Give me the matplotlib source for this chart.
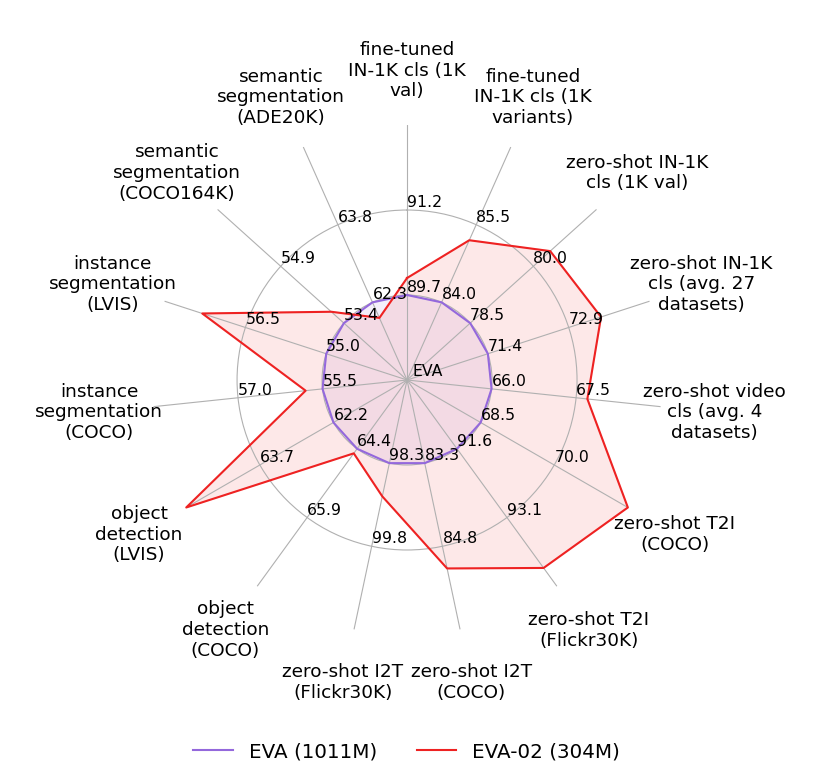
import numpy as np
import matplotlib
matplotlib.use('Agg')
import matplotlib.pyplot as plt

categories = [
    "fine-tuned\nIN-1K cls (1K\nval)",
    "fine-tuned\nIN-1K cls (1K\nvariants)",
    "zero-shot IN-1K\ncls (1K val)",
    "zero-shot IN-1K\ncls (avg. 27\ndatasets)",
    "zero-shot video\ncls (avg. 4\ndatasets)",
    "zero-shot T2I\n(COCO)",
    "zero-shot T2I\n(Flickr30K)",
    "zero-shot I2T\n(COCO)",
    "zero-shot I2T\n(Flickr30K)",
    "object\ndetection\n(COCO)",
    "object\ndetection\n(LVIS)",
    "instance\nsegmentation\n(COCO)",
    "instance\nsegmentation\n(LVIS)",
    "semantic\nsegmentation\n(COCO164K)",
    "semantic\nsegmentation\n(ADE20K)",
]
eva = [89.7, 84.0, 78.5, 71.4, 66.0, 68.5, 91.6, 83.3, 98.3, 64.4, 62.2, 55.5, 55.0, 53.4, 62.3]
eva02 = [90.0, 85.2, 80.4, 73.5, 67.7, 71.5, 94.2, 85.2, 98.9, 64.5, 65.2, 55.8, 57.3, 53.7, 62.0]
inner_ticks = eva
outer_ticks = [91.2, 85.5, 80.0, 72.9, 67.5, 70.0, 93.1, 84.8, 99.8, 65.9, 63.7, 57.0, 56.5, 54.9, 63.8]

PURPLE = '#9468DC'
RED = '#EE2222'

n = len(categories)
angles = np.arange(n) * 2 * np.pi / n
inner = np.array(inner_ticks)
outer = np.array(outer_ticks)


def scale(vals):
    vals = np.asarray(vals)
    return 0.5 + 0.5 * (vals - inner) / (outer - inner)


fig = plt.figure(figsize=(8.2, 7.68), dpi=100)
ax = fig.add_axes([0.1854, 0.1732, 0.622, 0.664], projection='polar')
ax.set_theta_zero_location('N')
ax.set_theta_direction(-1)
ax.set_ylim(0, 1.5)
ax.set_xticks(angles)
ax.set_xticklabels([])
ax.set_yticks([0.5, 1.0])
ax.set_yticklabels([])
ax.spines['polar'].set_visible(False)
ax.grid(color='#b0b0b0', lw=0.8)

th = np.append(angles, angles[0])
for vals, col, lab in [(eva, PURPLE, 'EVA (1011M)'), (eva02, RED, 'EVA-02 (304M)')]:
    r = scale(vals)
    rc = np.append(r, r[0])
    ax.plot(th, rc, color=col, lw=1.5, label=lab, clip_on=False, zorder=3)
    ax.fill(th, rc, color=col, alpha=0.1, clip_on=False, zorder=1)

for a, vi, vo in zip(angles, inner_ticks, outer_ticks):
    ax.text(a, 0.5, f"{vi:.1f}", ha='left', va='bottom', fontsize=11.3, zorder=4)
    ax.text(a, 1.0, f"{vo:.1f}", ha='left', va='bottom', fontsize=11.3, zorder=4)

for a, lab in zip(angles, categories):
    ax.text(a, 1.82, lab, ha='center', va='center', fontsize=13.3, clip_on=False)

ax.annotate("EVA", xy=(0, 0), xytext=(4, 1), textcoords='offset points',
            ha='left', va='bottom', fontsize=11.3)

fig.legend(loc='center', bbox_to_anchor=(0.496, 0.021), ncol=2, frameon=False, fontsize=14.3)

fig.savefig('out.png', dpi=100)
